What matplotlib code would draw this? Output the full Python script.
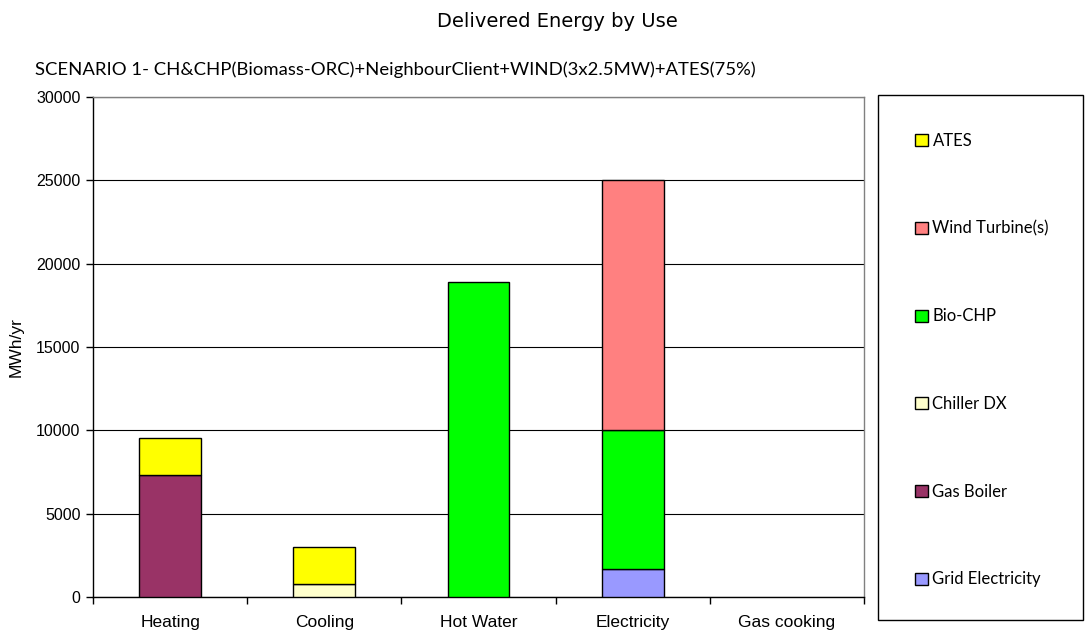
import matplotlib
matplotlib.use("Agg")
import matplotlib.pyplot as plt
from matplotlib.patches import Rectangle, Patch
import numpy as np

# ---------- data (MWh/yr) ----------
uses = ["Heating", "Cooling", "Hot Water", "Electricity", "Gas cooking"]
# stacked bottom -> top
sources = ["Grid Electricity", "Gas Boiler", "Chiller DX", "Bio-CHP", "Wind Turbine(s)", "ATES"]
grid_electricity = [0, 0, 0, 1680, 0]
gas_boiler = [7300, 0, 0, 0, 0]
chiller_dx = [0, 780, 0, 0, 0]
bio_chp = [0, 0, 18900, 8340, 0]
wind_turbines = [0, 0, 0, 15000, 0]
ates = [2240, 2220, 0, 0, 0]
y_ticks = [0, 5000, 10000, 15000, 20000, 25000, 30000]

series = [grid_electricity, gas_boiler, chiller_dx, bio_chp, wind_turbines, ates]
colors = ["#9999ff", "#993366", "#ffffcc", "#00ff00", "#ff8080", "#ffff00"]

TICK_FONT = "Liberation Sans"
LABEL_FONT = "Lato"

fig = plt.figure(figsize=(10.89, 6.31), dpi=100)
fig.patch.set_facecolor("white")
ax = fig.add_axes([0.0854, 0.0539, 0.708, 0.7924])

x = np.arange(len(uses))
bottom = np.zeros(len(uses))
for vals, col in zip(series, colors):
    vals = np.array(vals, dtype=float)
    mask = vals > 0
    ax.bar(x[mask], vals[mask], bottom=bottom[mask], width=0.4, color=col,
           edgecolor="black", linewidth=1.0, zorder=3)
    bottom += vals

ax.set_xlim(-0.5, len(uses) - 0.5)
ax.set_ylim(0, 30000)
ax.set_yticks(y_ticks)
ax.set_yticklabels([str(v) for v in y_ticks], fontfamily=TICK_FONT, fontsize=11.5)
ax.set_xticks(x)
ax.set_xticklabels(uses, fontfamily=TICK_FONT, fontsize=12.5)
ax.tick_params(axis="x", length=0, pad=13)
ax.set_xticks(np.arange(-0.5, len(uses)), minor=True)
ax.tick_params(axis="x", which="minor", length=5, width=1.0, direction="out")
ax.tick_params(axis="y", length=5, width=1.0, direction="out", pad=4)

ax.grid(axis="y", color="black", linewidth=0.8, zorder=1)
ax.set_axisbelow(True)
for side in ("top", "right"):
    ax.spines[side].set_color("#808080")
    ax.spines[side].set_linewidth(1.0)
for side in ("left", "bottom"):
    ax.spines[side].set_color("black")
    ax.spines[side].set_linewidth(1.0)

ax.set_ylabel("MWh/yr", fontfamily=TICK_FONT, fontsize=12.5, labelpad=9)

# ---------- titles ----------
fig.text(0.512, 0.966, "Delivered Energy by Use", ha="center", va="center",
         fontfamily="DejaVu Sans", fontsize=14)
fig.text(0.032, 0.889, "SCENARIO 1- CH&CHP(Biomass-ORC)+NeighbourClient+WIND(3x2.5MW)+ATES(75%)",
         ha="left", va="center", fontfamily=LABEL_FONT, fontsize=13.3)

# ---------- legend box ----------
fig.add_artist(Rectangle((878 / 1089, 1 - 620 / 631), 205 / 1089, 525 / 631,
                         transform=fig.transFigure, fill=False,
                         edgecolor="black", linewidth=1.0))
handles = [Patch(facecolor=c, edgecolor="black", linewidth=1.0)
           for c in colors[::-1]]
leg = fig.legend(handles, sources[::-1], loc="upper left",
                 bbox_to_anchor=(915 / 1089, 1 - 133 / 631),
                 frameon=False, prop={"family": LABEL_FONT, "size": 12},
                 handlelength=0.75, handleheight=0.75, handletextpad=0.3,
                 labelspacing=4.3, borderpad=0, borderaxespad=0)

fig.savefig("out.png", dpi=100, facecolor="white")
